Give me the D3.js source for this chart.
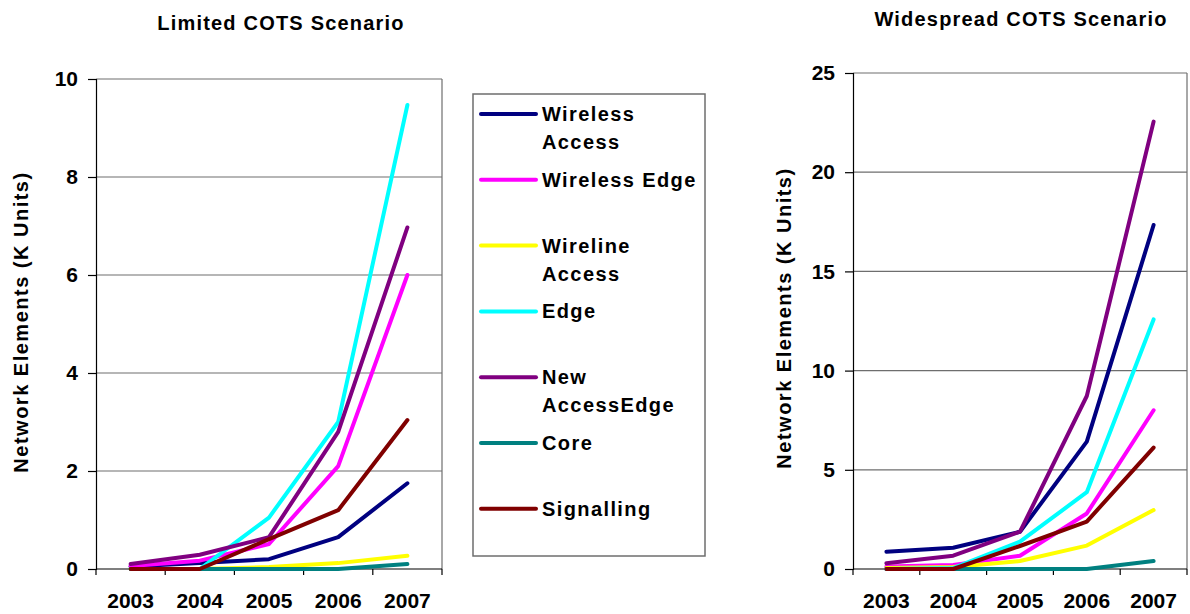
<!DOCTYPE html>
<html>
<head>
<meta charset="utf-8">
<script src="https://cdn.jsdelivr.net/npm/d3@7"></script>
<style>
  body { margin: 0; background: #fff; }
  svg { display: block; font-family: "Liberation Sans", Arial, sans-serif; font-weight: bold; }
</style>
</head>
<body>
<script>
// categories
const years = ['2003', '2004', '2005', '2006', '2007'];

// series names and colours (legend order)
const seriesNames = ['Wireless Access', 'Wireless Edge', 'Wireline Access', 'Edge', 'New AccessEdge', 'Core', 'Signalling'];
const seriesColors = ['#000080', '#ff00ff', '#ffff00', '#00ffff', '#800080', '#008080', '#800000'];
// legend labels are wrapped like in the original
const legendLines = [['Wireless', 'Access'], ['Wireless Edge'], ['Wireline', 'Access'], ['Edge'], ['New', 'AccessEdge'], ['Core'], ['Signalling']];

// Limited COTS scenario (K units)
const limitedWirelessAccess = [0.05, 0.12, 0.2, 0.65, 1.75];
const limitedWirelessEdge   = [0.06, 0.17, 0.51, 2.1, 6.0];
const limitedWirelineAccess = [0, 0, 0.04, 0.12, 0.27];
const limitedEdge           = [0, 0, 1.05, 3.0, 9.47];
const limitedNewAccessEdge  = [0.1, 0.29, 0.65, 2.8, 6.97];
const limitedCore           = [0, 0, 0, 0, 0.1];
const limitedSignalling     = [0, 0, 0.61, 1.2, 3.04];

// Widespread COTS scenario (K units)
const wideWirelessAccess = [0.87, 1.07, 1.88, 6.42, 17.34];
const wideWirelessEdge   = [0.12, 0.2, 0.67, 2.8, 8.0];
const wideWirelineAccess = [0.05, 0.1, 0.4, 1.18, 2.97];
const wideEdge           = [0, 0.05, 1.38, 3.87, 12.58];
const wideNewAccessEdge  = [0.29, 0.67, 1.88, 8.72, 22.55];
const wideCore           = [0, 0, 0, 0, 0.4];
const wideSignalling     = [0, 0, 1.16, 2.39, 6.12];

// y ticks
const limitedTicks = [0, 2, 4, 6, 8, 10];
const wideTicks = [0, 5, 10, 15, 20, 25];

const svg = d3.select('body').append('svg')
    .attr('width', 1190)
    .attr('height', 614);

function drawChart(opt) {
    const x = d3.scaleBand().domain(years).range(opt.xRange);
    const y = d3.scaleLinear().domain([0, d3.max(opt.ticks)]).range(opt.yRange);
    const g = svg.append('g');
    const [x0, x1] = opt.xRange;

    // gridlines
    g.selectAll('.grid')
        .data(opt.ticks.filter(t => t > 0))
        .join('line')
        .attr('x1', x0).attr('x2', x1)
        .attr('y1', d => y(d)).attr('y2', d => y(d))
        .attr('stroke', '#6e6e6e')
        .attr('stroke-width', 1.2);

    // right border of plot area
    g.append('line')
        .attr('x1', x1).attr('x2', x1)
        .attr('y1', y(d3.max(opt.ticks))).attr('y2', y(0))
        .attr('stroke', '#6e6e6e')
        .attr('stroke-width', 1.2);

    // y axis
    const yAxis = g.append('g')
        .attr('transform', `translate(${x0},0)`)
        .call(d3.axisLeft(y).tickValues(opt.ticks).tickSize(8).tickPadding(10));
    yAxis.select('.domain').attr('stroke', '#000').attr('stroke-width', 1.2);
    yAxis.selectAll('.tick line').attr('stroke', '#000').attr('stroke-width', 1.2);
    yAxis.selectAll('text')
        .attr('font-size', 21)
        .attr('font-weight', 'bold')
        .attr('font-family', '"Liberation Sans", Arial, sans-serif')
        .attr('fill', '#000');

    // x axis: labels centred in bands, ticks on band edges
    const xAxis = g.append('g')
        .attr('transform', `translate(0,${y(0)})`)
        .call(d3.axisBottom(x).tickSize(0).tickPadding(24));
    xAxis.select('.domain').remove();
    xAxis.selectAll('text')
        .attr('font-size', 21)
        .attr('font-weight', 'bold')
        .attr('font-family', '"Liberation Sans", Arial, sans-serif')
        .attr('fill', '#000');

    g.append('line')
        .attr('x1', x0).attr('x2', x1)
        .attr('y1', y(0)).attr('y2', y(0))
        .attr('stroke', '#000').attr('stroke-width', 1.2);
    const edges = years.map(d => x(d)).concat([x(years[years.length - 1]) + x.bandwidth()]);
    g.selectAll('.xtick')
        .data(edges)
        .join('line')
        .attr('x1', d => d).attr('x2', d => d)
        .attr('y1', y(0)).attr('y2', y(0) + 6)
        .attr('stroke', '#000').attr('stroke-width', 1.2);

    // lines
    const line = d3.line()
        .x((d, i) => x(years[i]) + x.bandwidth() / 2)
        .y(d => y(d))
        .curve(d3.curveLinear);

    g.selectAll('.series')
        .data(opt.series)
        .join('path')
        .attr('d', d => line(d))
        .attr('fill', 'none')
        .attr('stroke', (d, i) => seriesColors[i])
        .attr('stroke-width', 4)
        .attr('stroke-linejoin', 'round')
        .attr('stroke-linecap', 'round');

    // title
    svg.append('text')
        .attr('x', opt.titleX).attr('y', opt.titleY)
        .attr('text-anchor', 'middle')
        .attr('font-size', 20)
        .attr('letter-spacing', 1.2)
        .text(opt.title);

    // y axis label
    svg.append('text')
        .attr('transform', `translate(${opt.yLabelX},${opt.yLabelY}) rotate(-90)`)
        .attr('text-anchor', 'middle')
        .attr('font-size', 20)
        .attr('letter-spacing', 1.5)
        .text('Network Elements (K Units)');
}

drawChart({
    title: 'Limited COTS Scenario',
    titleX: 281, titleY: 30,
    yLabelX: 28, yLabelY: 322,
    xRange: [96, 442],
    yRange: [569, 79],
    ticks: limitedTicks,
    series: [limitedWirelessAccess, limitedWirelessEdge, limitedWirelineAccess, limitedEdge,
             limitedNewAccessEdge, limitedCore, limitedSignalling]
});

drawChart({
    title: 'Widespread COTS Scenario',
    titleX: 1021, titleY: 26,
    yLabelX: 791, yLabelY: 318,
    xRange: [853, 1187],
    yRange: [569, 73],
    ticks: wideTicks,
    series: [wideWirelessAccess, wideWirelessEdge, wideWirelineAccess, wideEdge,
             wideNewAccessEdge, wideCore, wideSignalling]
});

// legend
const legend = svg.append('g');
legend.append('rect')
    .attr('x', 473).attr('y', 94)
    .attr('width', 232).attr('height', 462)
    .attr('fill', '#fff')
    .attr('stroke', '#6e6e6e')
    .attr('stroke-width', 1.5);

const item = legend.selectAll('.item')
    .data(seriesNames)
    .join('g')
    .attr('transform', (d, i) => `translate(0,${114 + i * 65.8})`);

item.append('line')
    .attr('x1', 481).attr('x2', 536)
    .attr('y1', 0).attr('y2', 0)
    .attr('stroke', (d, i) => seriesColors[i])
    .attr('stroke-width', 4)
    .attr('stroke-linecap', 'round');

item.append('text')
    .attr('x', 542)
    .attr('y', 7)
    .attr('font-size', 20)
    .attr('letter-spacing', 1.4)
    .selectAll('tspan')
    .data((d, i) => legendLines[i])
    .join('tspan')
    .attr('x', 542)
    .attr('dy', (d, j) => j === 0 ? 0 : 28)
    .text(d => d);
</script>
</body>
</html>
